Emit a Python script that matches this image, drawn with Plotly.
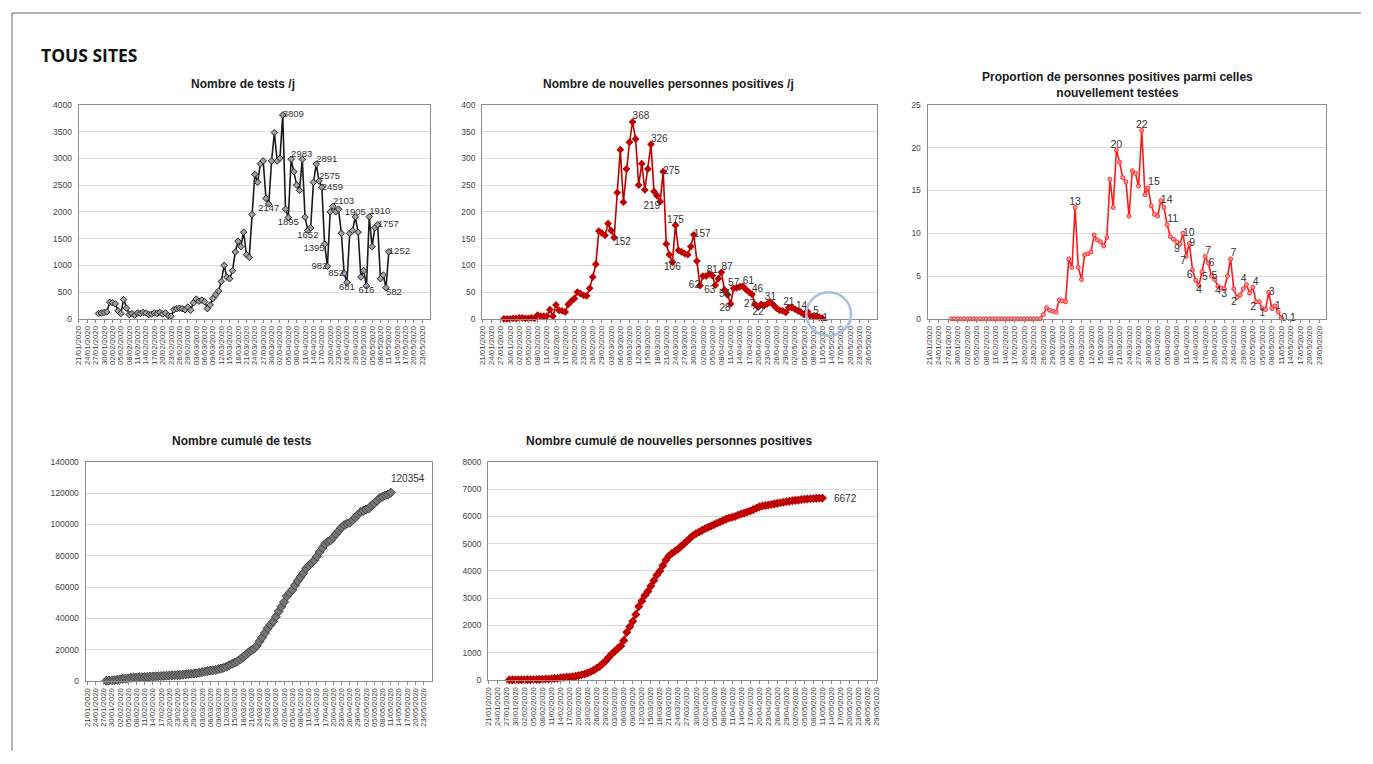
import pandas as pd
import plotly.graph_objects as go

# page body has an 8px margin: figure fits inside it, reference pixel coords are shifted by it
OX, OY = 8, 8
W, H = 1373 - 2 * OX, 764 - 2 * OY

# ---------------- data ----------------
start_date = "2020-01-28"
n_days = 105

tick_labels = ["21/01/2020", "24/01/2020", "27/01/2020", "30/01/2020", "02/02/2020", "05/02/2020",
               "08/02/2020", "11/02/2020", "14/02/2020", "17/02/2020", "20/02/2020", "23/02/2020",
               "26/02/2020", "29/02/2020", "03/03/2020", "06/03/2020", "09/03/2020", "12/03/2020",
               "15/03/2020", "18/03/2020", "21/03/2020", "24/03/2020", "27/03/2020", "30/03/2020",
               "02/04/2020", "05/04/2020", "08/04/2020", "11/04/2020", "14/04/2020", "17/04/2020",
               "20/04/2020", "23/04/2020", "26/04/2020", "29/04/2020", "02/05/2020", "05/05/2020",
               "08/05/2020", "11/05/2020", "14/05/2020", "17/05/2020", "20/05/2020", "23/05/2020",
               "26/05/2020", "29/05/2020"]

tests_per_day = [
    100, 110, 120, 130, 310, 300, 280, 150, 100, 360,
    200, 80, 100, 70, 110, 100, 120, 110, 80, 90,
    110, 100, 120, 90, 110, 60, 50, 170, 190, 200,
    190, 170, 220, 160, 300, 370, 330, 350, 320, 190,
    260, 380, 450, 520, 700, 1000, 780, 750, 900, 1250,
    1450, 1350, 1620, 1200, 1150, 1950, 2700, 2550, 2900, 2950,
    2250, 2147, 2950, 3480, 2950, 3000, 3809, 2050, 1895, 2983,
    2750, 2500, 2400, 2980, 1900, 1652, 1700, 2550, 2891, 2575,
    2459, 1395, 982, 2000, 2103, 2000, 2050, 1600, 852, 681,
    1600, 1650, 1905, 1618, 780, 900, 616, 1910, 1350, 1700,
    1757, 750, 820, 582, 1252]

positives_per_day = [
    0, 0, 0, 1, 1, 2, 2, 1, 1, 2,
    1, 7, 5, 5, 5, 17, 5, 26, 16, 15,
    13, 27, 33, 38, 50, 47, 44, 43, 57, 78,
    102, 164, 160, 156, 178, 165, 152, 236, 316, 218,
    280, 330, 368, 336, 250, 290, 241, 280, 326, 238,
    230, 219, 275, 140, 120, 106, 175, 128, 125, 122,
    120, 135, 157, 108, 62, 80, 80, 84, 81, 63,
    75, 87, 54, 45, 28, 57, 58, 60, 61, 55,
    50, 46, 27, 22, 27, 25, 28, 31, 26, 20,
    16, 15, 12, 21, 21, 18, 15, 12, 8, 14,
    6, 5, 5, 3, 1]

proportion_positive = [
    0, 0, 0, 0, 0, 0, 0, 0, 0, 0,
    0, 0, 0, 0, 0, 0, 0, 0, 0, 0,
    0, 0, 0, 0, 0, 0, 0, 0, 0, 0.5,
    1.3, 1.0, 0.9, 0.8, 2.2, 2.1, 2.0, 7.0, 6.0, 13.0,
    6.0, 4.6, 7.5, 7.6, 7.8, 9.8, 9.2, 9.0, 8.5, 9.5,
    16.3, 13.0, 19.7, 18.3, 16.5, 16.0, 12.0, 17.3, 17.0, 15.5,
    22.0, 14.5, 15.3, 13.2, 12.2, 12.0, 13.8, 13.0, 11.0, 9.6,
    9.3, 9.0, 8.7, 10.0, 7.3, 8.8, 5.7, 4.5, 3.9, 5.5,
    7.3, 6.5, 5.0, 4.6, 3.8, 3.6, 3.5, 5.0, 7.0, 3.5,
    2.5, 2.8, 3.5, 4.0, 3.0, 3.7, 2.0, 2.0, 1.2, 1.1,
    3.1, 1.2, 1.5, 0.8, 0.1]

cumul_tests = [
    100, 210, 330, 460, 770, 1070, 1350, 1500, 1600, 1960,
    2160, 2240, 2340, 2410, 2520, 2620, 2740, 2850, 2930, 3020,
    3130, 3230, 3350, 3440, 3550, 3610, 3660, 3830, 4020, 4220,
    4410, 4580, 4800, 4960, 5260, 5630, 5960, 6310, 6630, 6820,
    7080, 7460, 7910, 8430, 9130, 10130, 10910, 11660, 12560, 13810,
    15260, 16610, 18230, 19430, 20580, 22530, 25230, 27780, 30680, 33630,
    35880, 38027, 40977, 44457, 47407, 50407, 54216, 56266, 58161, 61144,
    63894, 66394, 68794, 71774, 73674, 75326, 77026, 79576, 82467, 85042,
    87501, 88896, 89878, 91878, 93981, 95981, 98031, 99631, 100483, 101164,
    102764, 104414, 106319, 107937, 108717, 109617, 110233, 112143, 113493, 115193,
    116950, 117700, 118520, 119102, 120354]

cumul_positives = [
    2, 3, 4, 6, 8, 10, 12, 14, 16, 19,
    22, 28, 33, 38, 44, 55, 62, 80, 92, 105,
    110, 120, 140, 160, 190, 220, 255, 300, 360, 430,
    500, 600, 700, 830, 950, 1050, 1150, 1250, 1450, 1750,
    1950, 2150, 2400, 2700, 2900, 3100, 3250, 3450, 3650, 3850,
    4000, 4200, 4400, 4550, 4650, 4720, 4800, 4900, 5000, 5100,
    5200, 5300, 5370, 5430, 5490, 5550, 5600, 5650, 5700, 5750,
    5800, 5850, 5900, 5940, 5970, 6000, 6050, 6090, 6120, 6160,
    6200, 6250, 6300, 6350, 6380, 6400, 6420, 6440, 6460, 6480,
    6500, 6520, 6540, 6560, 6575, 6590, 6600, 6615, 6630, 6640,
    6650, 6658, 6664, 6669, 6672]

# data labels: (index, position)
tests_labels = [(66, "middle right"), (69, "top right"), (61, "bottom center"), (68, "bottom center"),
                (78, "top right"), (79, "top right"), (80, "middle right"), (84, "top right"),
                (92, "top center"), (75, "bottom center"), (81, "bottom left"), (82, "middle left"),
                (88, "middle left"), (89, "bottom center"), (96, "bottom center"), (97, "top right"),
                (100, "middle right"), (103, "bottom right"), (104, "middle right")]

pos_labels = [(42, "top right"), (48, "top right"), (52, "middle right"), (51, "bottom left"),
              (36, "bottom right"), (56, "top center"), (55, "bottom center"), (62, "middle right"),
              (64, "middle left"), (68, "top center"), (69, "bottom left"), (71, "top right"),
              (72, "bottom center"), (74, "bottom left"), (75, "top center"), (78, "top right"),
              (81, "top right"), (82, "middle left"), (83, "bottom center"), (87, "top center"),
              (93, "top center"), (99, "top left"), (101, "top right"), (104, "middle right")]

prop_labels = [(39, "13", "top center"), (52, "20", "top center"), (60, "22", "top center"),
               (62, "15", "top right"), (66, "14", "middle right"), (68, "11", "top right"),
               (73, "10", "middle right"), (75, "9", "middle right"), (72, "9", "bottom left"),
               (74, "7", "bottom left"), (76, "6", "bottom left"), (78, "4", "bottom center"),
               (80, "7", "top right"), (81, "6", "middle right"), (82, "5", "middle right"),
               (79, "5", "bottom right"), (84, "4", "bottom center"), (86, "3", "bottom center"),
               (90, "2", "bottom left"), (88, "7", "top right"), (93, "4", "top left"),
               (96, "2", "bottom left"), (95, "4", "top right"), (98, "1", "bottom center"),
               (100, "3", "middle right"), (102, "1", "middle right"), (104, "0.1", "middle right")]

# ---------------- figure ----------------
dates = pd.date_range(start_date, periods=n_days, freq="D")
tick_vals = pd.to_datetime(tick_labels, format="%d/%m/%Y")

FONT = "Liberation Sans, Arial, sans-serif"


def px(v):
    return min(max((v - OX) / W, 0), 1)


def py(v):
    return min(max(1 - (v - OY) / H, 0), 1)


fig = go.Figure()

panels = {
    1: dict(x0=75, x1=428, yt=101, yb=318, yr=[0, 4000], dt=500, xr=["2020-01-20 21:00", "2020-05-25 14:00"]),
    2: dict(x0=481, x1=878, yt=101, yb=318, yr=[0, 400], dt=50, xr=["2020-01-20 22:00", "2020-05-28 18:00"]),
    3: dict(x0=929, x1=1330, yt=101, yb=318, yr=[0, 25], dt=5, xr=["2020-01-20 12:00", "2020-05-25 03:00"]),
    4: dict(x0=82, x1=430, yt=463, yb=685, yr=[0, 140000], dt=20000, xr=["2020-01-20 10:00", "2020-05-25 22:00"]),
    5: dict(x0=487, x1=878, yt=463, yb=684, yr=[0, 8000], dt=1000, xr=["2020-01-20 23:00", "2020-05-29 02:00"]),
}

layout_axes = {}
for k, p in panels.items():
    xa = "xaxis" if k == 1 else f"xaxis{k}"
    ya = "yaxis" if k == 1 else f"yaxis{k}"
    layout_axes[xa] = dict(
        domain=[px(p["x0"]), px(p["x1"])], anchor="y" if k == 1 else f"y{k}",
        type="date", range=p["xr"], tickmode="array", tickvals=tick_vals, ticktext=tick_labels,
        tickangle=-90, tickfont=dict(family=FONT, size=7.8, color="#3a3a3a"),
        showgrid=False, showline=True, mirror=True, linecolor="#8c8c8c", linewidth=1,
        ticks="outside", ticklen=3, tickcolor="#8c8c8c", zeroline=False, fixedrange=True)
    layout_axes[ya] = dict(
        domain=[py(p["yb"]), py(p["yt"])], anchor="x" if k == 1 else f"x{k}",
        range=p["yr"], dtick=p["dt"], tick0=0, tickformat="d", showgrid=True, gridcolor="#dcdcdc",
        gridwidth=1, showline=True, mirror=True, linecolor="#8c8c8c", linewidth=1, ticks="",
        tickfont=dict(family=FONT, size=8.5, color="#444444"), zeroline=False, ticklabelstandoff=4,
        fixedrange=True)

fig.update_layout(**layout_axes)


def add_labels(idx_pos, values, xa, ya, texts=None, size=9.5):
    xs = [dates[i] for i, *_ in idx_pos]
    ys = [values[i] for i, *_ in idx_pos]
    if texts is None:
        texts = [str(values[i]) for i, *_ in idx_pos]
    poss = [t[-1] for t in idx_pos]
    fig.add_trace(go.Scatter(x=xs, y=ys, mode="text", text=texts, textposition=poss,
                             textfont=dict(family=FONT, size=size, color="#333333"),
                             xaxis=xa, yaxis=ya, cliponaxis=False, showlegend=False,
                             hoverinfo="skip"))


# 1: tests per day
fig.add_trace(go.Scatter(x=dates, y=tests_per_day, mode="lines+markers", xaxis="x", yaxis="y",
                         line=dict(color="#1a1a1a", width=1.6),
                         marker=dict(symbol="diamond", size=5, color="#a0a0a0",
                                     line=dict(color="#222222", width=1)),
                         showlegend=False, cliponaxis=False))
add_labels(tests_labels, tests_per_day, "x", "y", size=9.5)

# 2: positives per day
fig.add_trace(go.Scatter(x=dates, y=positives_per_day, mode="lines+markers", xaxis="x2", yaxis="y2",
                         line=dict(color="#c00000", width=1.6),
                         marker=dict(symbol="diamond", size=6, color="#c00000"),
                         showlegend=False, cliponaxis=False))
add_labels(pos_labels, positives_per_day, "x2", "y2", size=10)

# 3: proportion
fig.add_trace(go.Scatter(x=dates, y=proportion_positive, mode="lines+markers", xaxis="x3", yaxis="y3",
                         line=dict(color="#ff1a1a", width=1.6),
                         marker=dict(symbol="circle", size=4, color="#ff9a9a",
                                     line=dict(color="#ff2a2a", width=1)),
                         showlegend=False, cliponaxis=False))
add_labels([(i, p) for i, _, p in prop_labels], proportion_positive, "x3", "y3",
           texts=[t for _, t, _ in prop_labels], size=10.5)

# 4: cumulative tests
fig.add_trace(go.Scatter(x=dates, y=cumul_tests, mode="lines+markers", xaxis="x4", yaxis="y4",
                         line=dict(color="#555555", width=2),
                         marker=dict(symbol="diamond", size=7, color="#777777",
                                     line=dict(color="#444444", width=1)),
                         showlegend=False, cliponaxis=False))

# 5: cumulative positives
fig.add_trace(go.Scatter(x=dates, y=cumul_positives, mode="lines+markers", xaxis="x5", yaxis="y5",
                         line=dict(color="#c00000", width=2),
                         marker=dict(symbol="diamond", size=7, color="#c00000"),
                         showlegend=False, cliponaxis=False))

annotations = [
    dict(text=str(cumul_tests[-1]), x=dates[-1], y=cumul_tests[-1], xref="x4", yref="y4",
         showarrow=False, xanchor="left", yanchor="bottom", xshift=-2, yshift=7,
         font=dict(family=FONT, size=10, color="#333333")),
    dict(text=str(cumul_positives[-1]), x=dates[-1], y=cumul_positives[-1], xref="x5", yref="y5",
         showarrow=False, xanchor="left", yanchor="middle", xshift=10, yshift=0,
         font=dict(family=FONT, size=10, color="#333333")),
]

titles = [
    ("Nombre de tests /j", 240, 80),
    ("Nombre de nouvelles personnes positives /j", 668, 80),
    ("Proportion de personnes positives parmi celles<br>nouvellement testées", 1120, 81),
    ("Nombre cumulé de tests", 239, 442),
    ("Nombre cumulé de nouvelles personnes positives", 669, 442),
]
for t, x, y in titles:
    annotations.append(dict(text="<b>" + t + "</b>", x=px(x), y=py(y), xref="paper", yref="paper",
                            showarrow=False, xanchor="center", yanchor="middle",
                            font=dict(family=FONT, size=12, color="#1a1a1a")))
annotations.append(dict(text="<b>TOUS SITES</b>", x=px(35), y=py(51), xref="paper", yref="paper",
                        showarrow=False, xanchor="left", yanchor="middle",
                        font=dict(family="Open Sans, Liberation Sans, sans-serif", size=17.5,
                                  color="#111111")))

shapes = [
    dict(type="line", xref="paper", yref="paper", x0=0, x1=1, y0=1, y1=1,
         line=dict(color="#9a9a9a", width=1.5)),
    dict(type="line", xref="paper", yref="paper", x0=0, x1=0, y0=1, y1=0,
         line=dict(color="#9a9a9a", width=1.5)),
    dict(type="circle", xref="paper", yref="paper", x0=px(807), x1=px(852), y0=py(335), y1=py(291),
         line=dict(color="#a9bfe0", width=2.5)),
]

fig.update_layout(width=W, height=H, margin=dict(l=0, r=0, t=0, b=0),
                  paper_bgcolor="white", plot_bgcolor="white",
                  annotations=annotations, shapes=shapes, showlegend=False)

fig.write_html("out.html")
